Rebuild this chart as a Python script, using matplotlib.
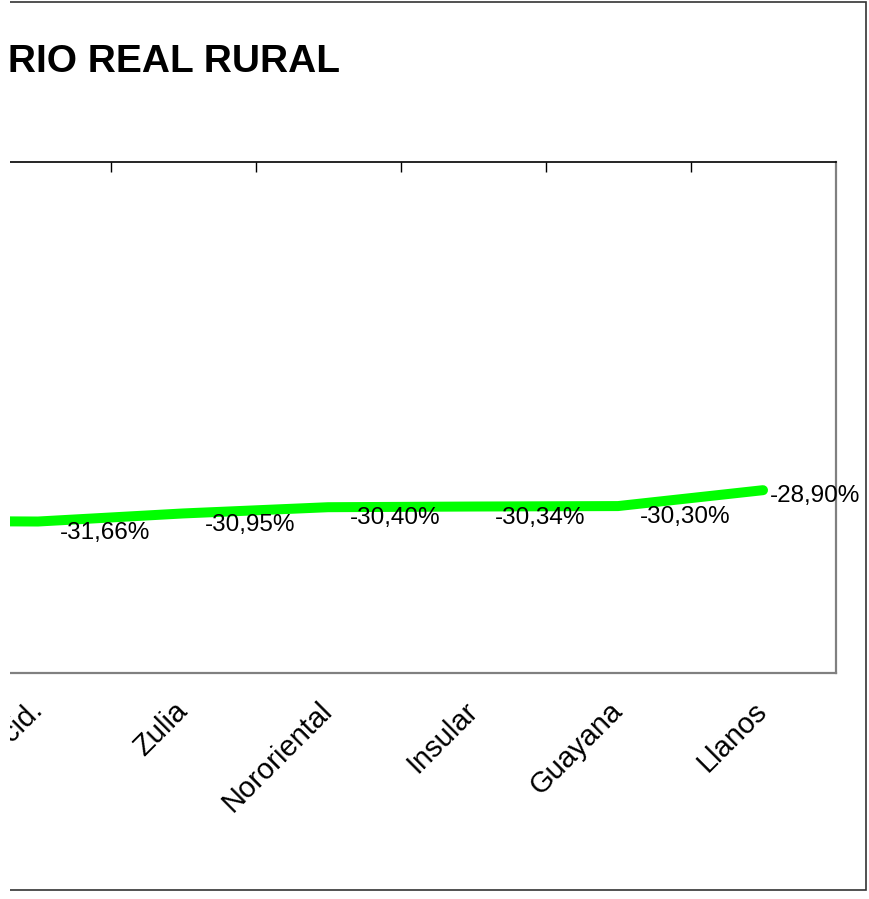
import matplotlib

matplotlib.use("Agg")
import matplotlib.pyplot as plt
from matplotlib.patches import Rectangle

plt.rcParams["font.family"] = ["Liberation Sans", "DejaVu Sans"]

# regiones (la primera queda fuera del recorte, igual que en el original)
regions = ["Los Andes", "Centro Occid.", "Zulia", "Nororiental", "Insular", "Guayana", "Llanos"]
variation = [-31.60, -31.66, -30.95, -30.40, -30.34, -30.30, -28.90]
title = "SALARIO REAL RURAL"

W, H = 870, 899


def fx(px):
    return px / W


def fy(py):
    return 1 - py / H


fig = plt.figure(figsize=(W / 100, H / 100), dpi=100)
fig.patch.set_facecolor("white")

# plot area, wider than the canvas on the left (chart is cropped)
left, right, top, bottom = -179.5, 835.5, 162, 673
ax = fig.add_axes([fx(left), fy(bottom), (right - left) / W, (bottom - top) / H])

x = list(range(len(regions)))
ax.plot(x, variation, color="#00ff00", lw=7.2, solid_capstyle="round", solid_joinstyle="round")

# data labels, nudged right/below the point like Excel does
offsets = [(16, -8)] * (len(regions) - 1) + [(5, -4)]
for xi, v, off in zip(x, variation, offsets):
    ax.annotate(f"{v:.2f}%".replace(".", ","), (xi, v), xytext=off, textcoords="offset points",
                ha="left", va="center", fontsize=17.5, color="black")

ax.set_xlim(-0.5, len(regions) - 0.5)
ax.set_ylim(-45, 0)
ax.set_yticks([])

ax.set_xticks(x)
ax.set_xticklabels(regions, rotation=45, ha="right", va="center", rotation_mode="anchor", fontsize=21)
ax.tick_params(axis="x", which="major", length=0, pad=24, bottom=True, top=False)
ax.set_xticks([i + 0.5 for i in x[:-1]], minor=True)
ax.tick_params(axis="x", which="minor", top=True, bottom=False, direction="in", length=7, width=1, color="black")

ax.spines["top"].set_color("black")
ax.spines["top"].set_linewidth(1.2)
for s in ("right", "bottom", "left"):
    ax.spines[s].set_color("#808080")
    ax.spines[s].set_linewidth(1.6)

fig.text(fx(340), fy(72), title, ha="right", va="baseline", fontsize=28, fontweight="bold")

# outer chart frame
fig.add_artist(Rectangle((fx(-50), fy(890)), fx(866 + 50), (890 - 2) / H, transform=fig.transFigure,
                         fill=False, edgecolor="#333333", lw=1.2, zorder=5))
# blank strip on the left edge of the screenshot
fig.add_artist(Rectangle((0, 0), fx(10), 1, transform=fig.transFigure, facecolor="white",
                         edgecolor="none", zorder=10))

fig.savefig("out.png", dpi=100)
